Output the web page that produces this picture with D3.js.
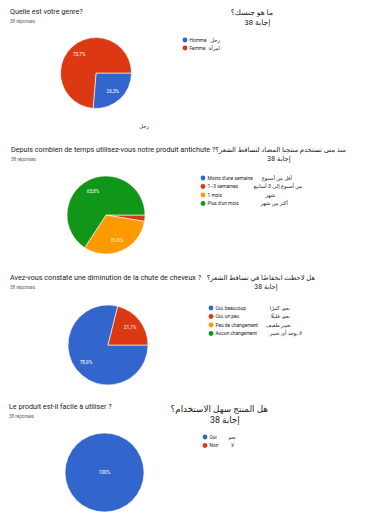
<!DOCTYPE html>
<html>
<head>
<meta charset="utf-8">
<title>Réponses</title>
<style>
  body { margin: 0; background: #fff; }
  text { font-family: Roboto, "DejaVu Sans", sans-serif; }
</style>
</head>
<body>
<script src="https://cdnjs.cloudflare.com/ajax/libs/d3/7.9.0/d3.min.js"></script>
<script>
// data
const genreLabels = ["Homme", "Femme"];
const genreArabic = ["رجل", "امرأة"];
const genreValues = [10, 28];

const dureeLabels = ["Moins d'une semaine", "1–3 semaines", "1 mois", "Plus d'un mois"];
const dureeArabic = ["أقل من أسبوع", "من أسبوع إلى 3 أسابيع", "شهر", "أكثر من شهر"];
const dureeValues = [0, 1, 12, 25];

const chuteLabels = ["Oui, beaucoup", "Oui, un peu", "Peu de changement", "Aucun changement"];
const chuteArabic = ["نعم، كثيرًا", "نعم، قليلًا", "تغيير طفيف", "لا يوجد أي تغيير"];
const chuteValues = [30, 8, 0, 0];

const facileLabels = ["Oui", "Non"];
const facileArabic = ["نعم", "لا"];
const facileValues = [38, 0];

const colors = ["#3366cc", "#dc3912", "#ff9900", "#109618"];

const width = 375, height = 524;

const svg = d3.select("body").append("svg")
    .attr("width", width)
    .attr("height", height)
    .attr("viewBox", `0 0 ${width} ${height}`);

svg.append("rect").attr("width", width).attr("height", height).attr("fill", "#fff");

const color = d3.scaleOrdinal().range(colors);
const pct = v => d3.format(".1f")(v).replace(".", ",") + "%";

function drawChart(o) {
    const g = svg.append("g");
    const total = d3.sum(o.values);

    // titles
    g.append("text").attr("x", o.tx).attr("y", o.ty)
        .attr("font-size", 7.2).attr("fill", "#202124").text(o.title);
    g.append("text").attr("x", o.tx).attr("y", o.ty + 9)
        .attr("font-size", 4.6).attr("fill", "#5f6368").text(total + " réponses");
    g.append("text").attr("x", o.arX).attr("y", o.arY)
        .attr("text-anchor", "end")
        .attr("font-size", o.arSize).attr("fill", "#202124").text(o.arTitle);
    // number and word as two pieces so the number sits on the left
    const y2 = o.arY + o.arSize * 1.3;
    g.append("text").attr("x", o.arCx - 1).attr("y", y2)
        .attr("text-anchor", "end")
        .attr("font-size", o.arSize).attr("fill", "#202124").text(total);
    g.append("text").attr("x", o.arCx + 1).attr("y", y2)
        .attr("text-anchor", "start")
        .attr("font-size", o.arSize).attr("fill", "#202124").text("إجابة");

    // pie
    const keys = o.labels.map((d, i) => i);
    color.domain(keys);
    const pie = d3.pie().sort(null)
        .startAngle(Math.PI / 2).endAngle(Math.PI / 2 + 2 * Math.PI)
        .value(d => o.values[d]);
    const arcs = pie(keys).filter(d => o.values[d.data] > 0);
    const arc = d3.arc().innerRadius(0).outerRadius(o.r);
    const labelArc = d3.arc().innerRadius(o.r * 0.7).outerRadius(o.r * 0.7);

    const pg = g.append("g").attr("transform", `translate(${o.cx},${o.cy})`);
    pg.selectAll("path").data(arcs).join("path")
        .attr("d", arc)
        .attr("fill", d => color(d.data))
        .attr("stroke", "#fff").attr("stroke-width", 0.6);

    pg.selectAll("text").data(arcs.filter(d => o.values[d.data] / total >= 0.05)).join("text")
        .attr("transform", d => arcs.length === 1 ? "translate(0,0)" : `translate(${labelArc.centroid(d)})`)
        .attr("text-anchor", "middle").attr("dy", "0.35em")
        .attr("font-size", 4.8).attr("fill", "#fff")
        .text(d => o.values[d.data] === total ? "100%" : pct(o.values[d.data] / total * 100));

    // legend
    const lg = g.append("g");
    const row = lg.selectAll("g").data(keys).join("g")
        .attr("transform", d => `translate(${o.lx},${o.ly + d * o.lstep})`);
    row.append("circle").attr("r", 2.4).attr("fill", d => color(d));
    row.append("text").attr("x", 4.5).attr("dy", "0.35em")
        .attr("font-size", 4.8).attr("fill", "#222").text(d => o.labels[d]);
    row.append("text").attr("x", d => o.arabicX[d] - o.lx).attr("dy", "0.35em")
        .attr("text-anchor", "end")
        .attr("font-size", 5.2).attr("fill", "#202124").text(d => o.arabic[d]);
}

drawChart({
    title: "Quelle est votre genre?", tx: 10, ty: 14,
    arTitle: "ما هو جنسك؟", arX: 273, arY: 15, arCx: 254, arSize: 7.6,
    labels: genreLabels, arabic: genreArabic, values: genreValues,
    cx: 96, cy: 73, r: 35.5,
    lx: 185, ly: 40, lstep: 8, arabicX: [220, 220]
});
svg.append("text").attr("x", 149).attr("y", 128).attr("text-anchor", "end")
    .attr("font-size", 5.2).attr("fill", "#202124").text(genreArabic[0]);

drawChart({
    title: "Depuis combien de temps utilisez-vous notre produit antichute ?", tx: 11, ty: 152,
    arTitle: "منذ متى تستخدم منتجنا المضاد لتساقط الشعر؟", arX: 346, arY: 152, arCx: 276, arSize: 6.8,
    labels: dureeLabels, arabic: dureeArabic, values: dureeValues,
    cx: 106, cy: 215, r: 39,
    lx: 203, ly: 178, lstep: 8.5, arabicX: [292, 302, 275, 288]
});

drawChart({
    title: "Avez-vous constaté une diminution de la chute de cheveux ?", tx: 10, ty: 280,
    arTitle: "هل لاحظت انخفاضًا في تساقط الشعر؟", arX: 315, arY: 280, arCx: 263, arSize: 6.8,
    labels: chuteLabels, arabic: chuteArabic, values: chuteValues,
    cx: 108, cy: 345, r: 40,
    lx: 211, ly: 308, lstep: 8.5, arabicX: [290, 290, 291, 302]
});

drawChart({
    title: "Le produit est-il facile à utiliser ?", tx: 9, ty: 409,
    arTitle: "هل المنتج سهل الاستخدام؟", arX: 268, arY: 412, arCx: 221, arSize: 8.8,
    labels: facileLabels, arabic: facileArabic, values: facileValues,
    cx: 104.5, cy: 472.5, r: 39.5,
    lx: 205, ly: 437, lstep: 8.5, arabicX: [236, 234]
});
</script>
</body>
</html>
